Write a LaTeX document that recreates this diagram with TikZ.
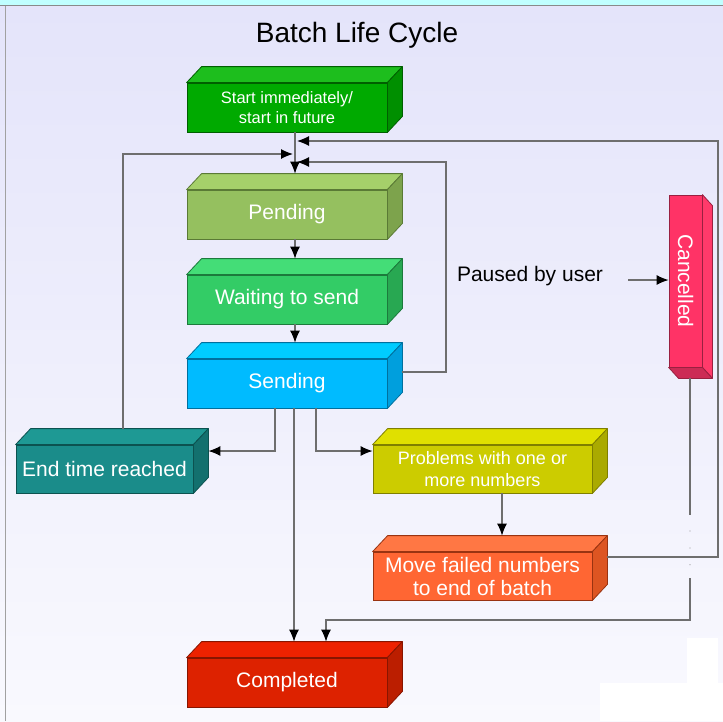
\documentclass[tikz,border=0pt]{standalone}
\usepackage{fontspec}
\setmainfont{Liberation Sans}
\usetikzlibrary{arrows.meta,calc}
\definecolor{bgtop}{HTML}{E4E4FA}
\definecolor{bgbot}{HTML}{F9F9FE}
\definecolor{strip}{HTML}{C0FFFF}
\definecolor{frameg}{HTML}{8A8A8A}
\definecolor{lineg}{HTML}{6E6E6E}
\definecolor{stF}{HTML}{00AA00}\definecolor{stT}{HTML}{1DBE1D}\definecolor{stS}{HTML}{008F00}\definecolor{stD}{HTML}{005F00}
\definecolor{peF}{HTML}{95C05F}\definecolor{peT}{HTML}{A5D06A}\definecolor{peS}{HTML}{7DA34C}\definecolor{peD}{HTML}{5A7A35}
\definecolor{waF}{HTML}{33CC66}\definecolor{waT}{HTML}{44DD77}\definecolor{waS}{HTML}{28A852}\definecolor{waD}{HTML}{1C7A3C}
\definecolor{seF}{HTML}{00BBFF}\definecolor{seT}{HTML}{00CCFF}\definecolor{seS}{HTML}{009FDD}\definecolor{seD}{HTML}{00709E}
\definecolor{enF}{HTML}{1A8C8A}\definecolor{enT}{HTML}{1E9994}\definecolor{enS}{HTML}{13706E}\definecolor{enD}{HTML}{0C5250}
\definecolor{prF}{HTML}{CCCC00}\definecolor{prT}{HTML}{E0E000}\definecolor{prS}{HTML}{AAAA00}\definecolor{prD}{HTML}{7F7F00}
\definecolor{moF}{HTML}{FF6633}\definecolor{moT}{HTML}{FF7744}\definecolor{moS}{HTML}{DD5522}\definecolor{moD}{HTML}{993311}
\definecolor{coF}{HTML}{DD2200}\definecolor{coT}{HTML}{EE2200}\definecolor{coS}{HTML}{BB1E00}\definecolor{coD}{HTML}{881500}
\definecolor{caF}{HTML}{FF3366}\definecolor{caS}{HTML}{FF3A6A}\definecolor{caB}{HTML}{CC2B55}\definecolor{caD}{HTML}{992040}
\newcommand\cubefaces[4]{%
  \filldraw[fill=#2,draw=#4,line width=0.8pt,line join=round] (#1.north west) -- ++(15,-16) -- ([shift={(15,-16)}]#1.north east) -- (#1.north east) -- cycle;
  \filldraw[fill=#3,draw=#4,line width=0.8pt,line join=round] (#1.north east) -- ++(15,-16) -- ([shift={(15,-16)}]#1.south east) -- (#1.south east) -- cycle;
}
\tikzset{
  box/.style={draw, line width=0.8pt, inner sep=0pt, text=white, align=center,
    font=\fontsize{21}{24}\selectfont},
  conn/.style={draw=lineg, line width=1.2pt},
  arr/.style={conn, -{Latex[length=12pt,width=10pt,black]}},
}
\begin{document}
\begin{tikzpicture}[x=1pt,y=-1pt]
\useasboundingbox (0,0) rectangle (723,721);
% background
\shade[top color=bgtop, bottom color=bgbot] (0,5) rectangle (723,721);
\fill[strip] (0,0) rectangle (723,5);
\draw[frameg, line width=1.5pt] (0,5.5) -- (723,5.5);
\draw[frameg!80, line width=1pt] (5,5.5) -- (5,721);
\fill[white] (600,683) rectangle (723,721);
\fill[white] (687,638) rectangle (718,683);
% title
\node[font=\fontsize{28}{32}\selectfont] (title) at (357,35) {Batch Life Cycle};
% boxes
\node[box, fill=stF, draw=stD, minimum width=200pt, minimum height=49pt, font=\fontsize{16.5}{20}\selectfont] (start) at (287,107.5) {Start immediately/\\start in future};
\cubefaces{start}{stT}{stS}{stD}
\node[box, fill=peF, draw=peD, minimum width=200pt, minimum height=49pt] (pending) at (287,214.5) {Pending};
\cubefaces{pending}{peT}{peS}{peD}
\node[box, fill=waF, draw=waD, minimum width=200pt, minimum height=49pt] (waiting) at (287,299.5) {Waiting to send};
\cubefaces{waiting}{waT}{waS}{waD}
\node[box, fill=seF, draw=seD, minimum width=200pt, minimum height=49pt] (sending) at (287,383.5) {Sending};
\cubefaces{sending}{seT}{seS}{seD}
\node[box, fill=enF, draw=enD, minimum width=177pt, minimum height=48pt] (endtime) at (104.5,469) {End time reached};
\cubefaces{endtime}{enT}{enS}{enD}
\node[box, fill=prF, draw=prD, minimum width=219pt, minimum height=48pt, font=\fontsize{18}{22}\selectfont] (problems) at (482.5,469) {Problems with one or\\more numbers};
\cubefaces{problems}{prT}{prS}{prD}
\node[box, fill=moF, draw=moD, minimum width=219pt, minimum height=48pt, font=\fontsize{21}{23}\selectfont] (movefailed) at (482.5,576) {Move failed numbers\\to end of batch};
\cubefaces{movefailed}{moT}{moS}{moD}
\node[box, fill=coF, draw=coD, minimum width=200pt, minimum height=49pt] (completed) at (287,682.5) {Completed};
\cubefaces{completed}{coT}{coS}{coD}
\node[box, fill=caF, draw=caD, minimum width=33pt, minimum height=172pt] (cancelled) at (685.5,281) {\rotatebox{-90}{Cancelled}};
\filldraw[fill=caS,draw=caD,line width=0.8pt,line join=round] (cancelled.north east) -- ++(10,11) -- ([shift={(10,11)}]cancelled.south east) -- (cancelled.south east) -- cycle;
\filldraw[fill=caB,draw=caD,line width=0.8pt,line join=round] (cancelled.south west) -- ++(10,11) -- ([shift={(10,11)}]cancelled.south east) -- (cancelled.south east) -- cycle;
% label
\node[font=\fontsize{21}{24}\selectfont] (paused) at (530,276) {Paused by user};
% junction coordinates
\coordinate (jl) at (293,154);
\coordinate (jr1) at (297,141);
\coordinate (jr2) at (297,162);
\coordinate (pu) at (628,280);
\coordinate (g1) at (690,515);
\coordinate (d1) at (690,531);
\coordinate (d2) at (690,565);
\coordinate (g2) at (690,578);
% connectors
\draw[arr] ([xshift=8pt]start.south) -- ([shift={(8,-16)}]pending.north);
\draw[arr] ([xshift=8pt]pending.south) -- ([shift={(8,-16)}]waiting.north);
\draw[arr] ([xshift=8pt]waiting.south) -- ([shift={(8,-16)}]sending.north);
\draw[arr] ([xshift=7pt]sending.south) -- ([shift={(7,-16)}]completed.north);
\draw[arr] ([xshift=-12pt]sending.south) |- ([shift={(15,-18)}]endtime.east);
\draw[arr] ([xshift=29pt]sending.south) |- ([yshift=18pt]problems.west);
\draw[arr] ([xshift=19.5pt]problems.south) -- ([shift={(19.5,-16)}]movefailed.north);
\draw[arr] ([shift={(15,-19)}]movefailed.east) -- (718,557) -- (718,141) -- (jr1);
\draw[arr] ([shift={(15,-11.5)}]sending.east) -- (446,372) -- (446,162) -- (jr2);
\draw[arr] ([shift={(18.5,-16)}]endtime.north) -- (123,154) -- (jl);
\draw[arr] (pu) -- (pu -| cancelled.west);
\draw[conn] ([shift={(4.5,11)}]cancelled.south) -- (g1);
\draw[lineg!70, line width=1.3pt, line cap=round, dash pattern=on 0pt off 16.9pt] (d1) -- (d2);
\draw[arr] (g2) -- (690,620) -- (326,620) -- ([shift={(39,-16)}]completed.north);
\end{tikzpicture}
\end{document}
